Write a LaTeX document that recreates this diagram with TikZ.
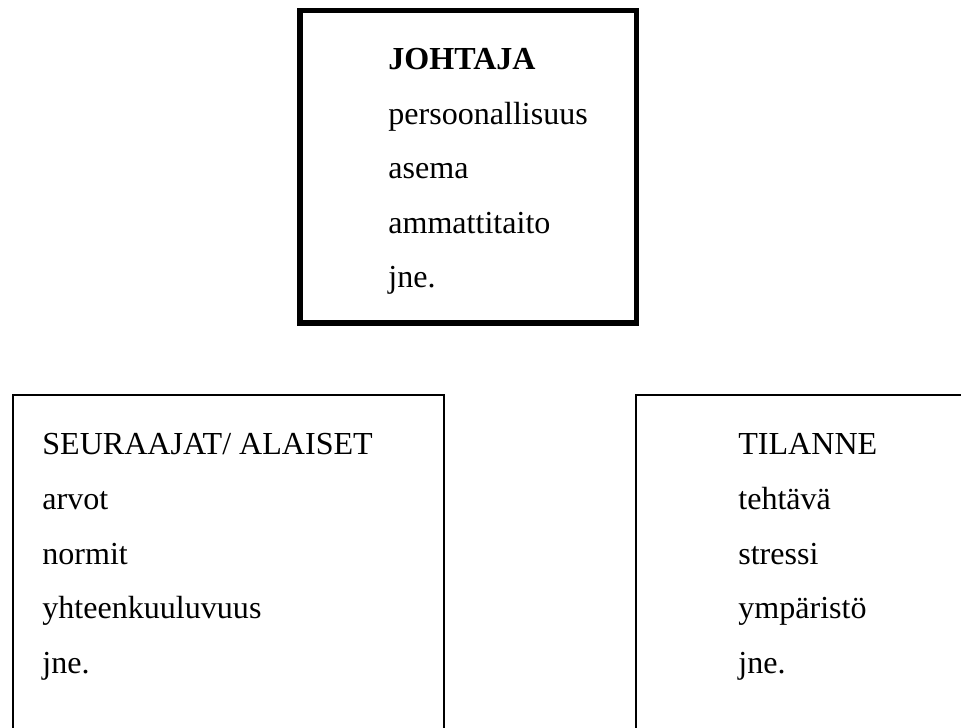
\documentclass[tikz,border=0pt]{standalone}
\usepackage{fontspec}
\setmainfont{Liberation Serif}

\begin{document}
\begin{tikzpicture}[font=\fontsize{18.25}{22}\selectfont,
  every node/.style={anchor=base west, inner sep=0pt}]
  \clip (0,0) rectangle (19.22,14.54);
  % johtaja: heavy frame at the top
  \draw[line width=2.85pt] (6,8.08) rectangle (12.72,14.33);
  \node[font=\fontsize{18.25}{22}\selectfont\bfseries] (lead) at (7.76,13.14) {JOHTAJA};
  \node (lead1) at (7.76,12.05) {persoonallisuus};
  \node (lead2) at (7.76,10.96) {asema};
  \node (lead3) at (7.76,9.87) {ammattitaito};
  \node (lead4) at (7.76,8.78) {jne.};
  % seuraajat: thin frame, runs off the bottom
  \draw[line width=1.3pt] (0.26,-1) rectangle (8.88,6.64);
  \node (follow) at (0.84,5.44) {SEURAAJAT/ ALAISET};
  \node (follow1) at (0.84,4.35) {arvot};
  \node (follow2) at (0.84,3.26) {normit};
  \node (follow3) at (0.84,2.17) {yhteenkuuluvuus};
  \node (follow4) at (0.84,1.08) {jne.};
  % tilanne: thin frame, runs off bottom and right
  \draw[line width=1.3pt] (12.72,-1) rectangle (20,6.64);
  \node (sit) at (14.76,5.44) {TILANNE};
  \node (sit1) at (14.76,4.35) {tehtävä};
  \node (sit2) at (14.76,3.26) {stressi};
  \node (sit3) at (14.76,2.17) {ympäristö};
  \node (sit4) at (14.76,1.08) {jne.};
\end{tikzpicture}
\end{document}
